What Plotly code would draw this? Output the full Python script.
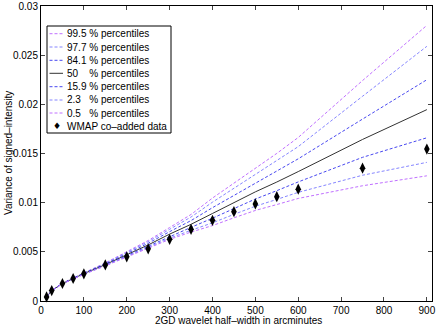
import plotly.graph_objects as go

# ---- data ----
x_vals = [13, 25, 50, 75, 100, 150, 200, 250, 300, 350, 400, 450, 500, 550, 600, 750, 900]

p995 = [0.00041, 0.00108, 0.00181, 0.00235, 0.00286, 0.00387, 0.00498, 0.00615, 0.00747, 0.00880,
        0.01047, 0.01196, 0.01351, 0.01501, 0.01663, 0.02242, 0.02803]
p977 = [0.00041, 0.00107, 0.00180, 0.00233, 0.00284, 0.00382, 0.00491, 0.00603, 0.00729, 0.00854,
        0.01005, 0.01144, 0.01286, 0.01423, 0.01570, 0.02082, 0.02590]
p841 = [0.00041, 0.00107, 0.00179, 0.00231, 0.00281, 0.00376, 0.00480, 0.00587, 0.00705, 0.00818,
        0.00949, 0.01074, 0.01200, 0.01319, 0.01446, 0.01850, 0.02250]
p500 = [0.00041, 0.00106, 0.00178, 0.00229, 0.00278, 0.00370, 0.00470, 0.00570, 0.00680, 0.00780,
        0.00890, 0.01000, 0.01110, 0.01210, 0.01316, 0.01643, 0.01946]
p159 = [0.00041, 0.00105, 0.00177, 0.00227, 0.00275, 0.00365, 0.00462, 0.00556, 0.00660, 0.00749,
        0.00842, 0.00940, 0.01037, 0.01122, 0.01211, 0.01461, 0.01660]
p023 = [0.00041, 0.00105, 0.00176, 0.00226, 0.00273, 0.00360, 0.00453, 0.00543, 0.00639, 0.00719,
        0.00795, 0.00881, 0.00964, 0.01033, 0.01105, 0.01279, 0.01410]
p005 = [0.00041, 0.00105, 0.00175, 0.00225, 0.00271, 0.00357, 0.00448, 0.00535, 0.00627, 0.00701,
        0.00767, 0.00846, 0.00921, 0.00981, 0.01043, 0.01172, 0.01273]

wmap = [0.00041, 0.00106, 0.00178, 0.00229, 0.00276, 0.00367, 0.00449, 0.00531, 0.00627, 0.00729,
        0.00820, 0.00908, 0.00987, 0.01061, 0.01137, 0.01351, 0.01545]

legend_labels = ["99.5 % percentiles", "97.7 % percentiles", "84.1 % percentiles",
                 "50\u00a0\u00a0\u00a0\u00a0% percentiles", "15.9 % percentiles",
                 "2.3\u00a0\u00a0\u00a0% percentiles", "0.5\u00a0\u00a0\u00a0% percentiles",
                 "WMAP co\u2013added data"]

x_ticks = [0, 100, 200, 300, 400, 500, 600, 700, 800, 900]
y_ticks = [0, 0.005, 0.01, 0.015, 0.02, 0.025, 0.03]
y_tick_text = ["0", "0.005", "0.01", "0.015", "0.02", "0.025", "0.03"]

x_title = "2GD wavelet half\u2013width in arcminutes"
y_title = "Variance of signed\u2013intensity"

# ---- styles ----
PINK = "#c070ff"
LAV = "#8585ff"
BLUE = "#4848f0"
BLACK = "#333333"
FONT = "Liberation Sans, Arial, Helvetica, sans-serif"
DASH = "3px,2px"

series = [
    (p995, PINK, "dash"),
    (p977, LAV, "dash"),
    (p841, BLUE, "dash"),
    (p500, BLACK, "solid"),
    (p159, BLUE, "dash"),
    (p023, LAV, "dash"),
    (p005, PINK, "dash"),
]

fig = go.Figure()
for ys, col, dash in series:
    fig.add_trace(go.Scatter(x=x_vals, y=ys, mode="lines",
                             line=dict(color=col, width=1, dash=DASH if dash == "dash" else "solid"),
                             showlegend=False, hoverinfo="skip"))
fig.add_trace(go.Scatter(x=x_vals, y=wmap, mode="markers", cliponaxis=False,
                         marker=dict(symbol="diamond-tall", size=8, color="black"),
                         showlegend=False))

# ---- custom legend (MATLAB-like compact box) ----
W, H = 436, 327
ml, mr, mt, mb = 41, 4, 6, 26
pw, ph = W - ml - mr, H - mt - mb


def px(xp):
    return (xp - ml) / pw


def py(yp):
    return 1 - (yp - mt) / ph


shapes = [dict(type="rect", xref="paper", yref="paper",
               x0=px(47), x1=px(171), y0=py(133), y1=py(26),
               line=dict(color="black", width=1), fillcolor="white", layer="above")]
annotations = []
row_y = [33.7, 47, 60.3, 73.3, 86.7, 100, 113, 126]
for i, (ys, col, dash) in enumerate(series):
    shapes.append(dict(type="line", xref="paper", yref="paper",
                       x0=px(49.5), x1=px(63), y0=py(row_y[i]), y1=py(row_y[i]),
                       line=dict(color=col, width=1, dash=DASH if dash == "dash" else "solid"),
                       layer="above"))
for i, lab in enumerate(legend_labels):
    annotations.append(dict(xref="paper", yref="paper", x=px(65), y=py(row_y[i]),
                            text=lab, showarrow=False, xanchor="left", yanchor="middle",
                            font=dict(family=FONT, size=10, color="black")))
annotations.append(dict(xref="paper", yref="paper", x=px(56.5), y=py(row_y[7]),
                        text="\u2666", showarrow=False, xanchor="center", yanchor="middle",
                        font=dict(family="DejaVu Sans", size=9, color="black")))
# axis titles
annotations.append(dict(xref="paper", yref="paper", x=px(238), y=py(320),
                        text=x_title, showarrow=False, xanchor="center", yanchor="middle",
                        font=dict(family=FONT, size=10, color="black")))
annotations.append(dict(xref="paper", yref="paper", x=px(8), y=py(153),
                        text=y_title, showarrow=False, xanchor="center", yanchor="middle",
                        textangle=-90, font=dict(family=FONT, size=10, color="black")))

fig.update_layout(
    width=W, height=H,
    margin=dict(l=ml, r=mr, t=mt, b=mb),
    paper_bgcolor="white", plot_bgcolor="white",
    font=dict(family=FONT, size=10, color="black"),
    shapes=shapes, annotations=annotations,
    showlegend=False,
)
fig.update_xaxes(range=[0, 912], tickvals=x_ticks, ticks="inside", ticklen=4,
                 showline=True, linecolor="black", linewidth=1, mirror="ticks",
                 showgrid=False, zeroline=False, tickfont=dict(size=10), automargin=False)
fig.update_yaxes(range=[0, 0.03], tickvals=y_ticks, ticktext=y_tick_text, ticks="inside", ticklen=4,
                 showline=True, linecolor="black", linewidth=1, mirror="ticks",
                 showgrid=False, zeroline=False, tickfont=dict(size=10), automargin=False)

fig.write_html("out.html", config={"displayModeBar": False},
               post_script="document.body.style.margin='0';document.body.style.overflow='hidden';")
